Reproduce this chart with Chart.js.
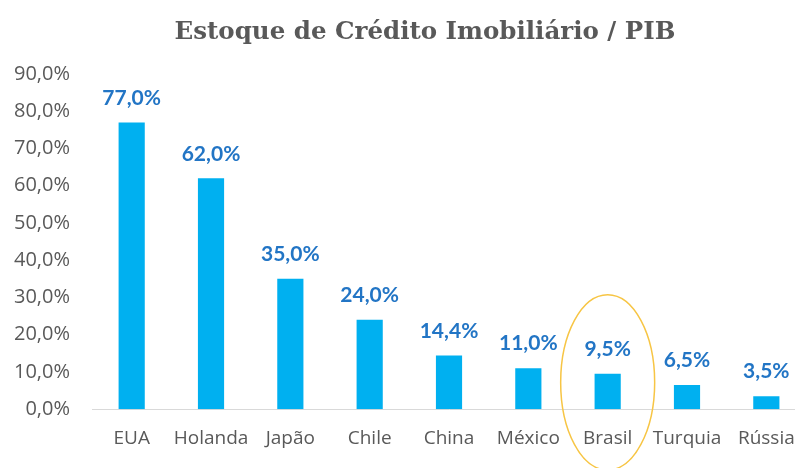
<!DOCTYPE html>
<html>
<head>
<meta charset="utf-8">
<script src="https://cdn.jsdelivr.net/npm/chart.js@4/dist/chart.umd.min.js"></script>
<style>
  html, body { margin: 0; padding: 0; background: #fff; overflow: hidden; }
  #wrap { width: 806px; height: 468px; position: relative; }
</style>
</head>
<body>
<div id="wrap"><canvas id="credit-chart"></canvas></div>
<script>
const countries = ["EUA", "Holanda", "Japão", "Chile", "China", "México", "Brasil", "Turquia", "Rússia"];
const creditToGdp = [77.0, 62.0, 35.0, 24.0, 14.4, 11.0, 9.5, 6.5, 3.5];
const yTicks = [0, 10, 20, 30, 40, 50, 60, 70, 80, 90];
const highlighted = "Brasil";
const chartTitle = "Estoque de Crédito Imobiliário / PIB";

const fmtPct = v => v.toFixed(1).replace('.', ',') + '%';

// title drawn by hand so it can sit a bit right of centre, like the original
const titleText = {
    id: 'titleText',
    afterDraw(chart) {
        const ctx = chart.ctx;
        ctx.save();
        ctx.font = 'bold 24.5px "DejaVu Serif"';
        ctx.fillStyle = '#595959';
        ctx.textAlign = 'center';
        ctx.textBaseline = 'alphabetic';
        ctx.fillText(chartTitle, 425, 39);
        ctx.restore();
    }
};

// labels above each bar
const barLabels = {
    id: 'barLabels',
    afterDatasetsDraw(chart) {
        const ctx = chart.ctx;
        const meta = chart.getDatasetMeta(0);
        ctx.save();
        ctx.font = 'bold 21px Lato';
        ctx.fillStyle = '#2275C5';
        ctx.textAlign = 'center';
        ctx.textBaseline = 'bottom';
        meta.data.forEach((bar, i) => {
            ctx.fillText(fmtPct(creditToGdp[i]), bar.x, bar.y - 14);
        });
        ctx.restore();
    }
};

// ellipse round the highlighted country
const highlightRing = {
    id: 'highlightRing',
    afterDraw(chart) {
        const ctx = chart.ctx;
        const idx = countries.indexOf(highlighted);
        const cx = chart.scales.x.getPixelForValue(idx);
        const top = chart.scales.y.getPixelForValue(creditToGdp[idx]) - 79;
        const bottom = chart.height + 2;
        ctx.save();
        ctx.strokeStyle = '#F7C544';
        ctx.lineWidth = 1.5;
        ctx.beginPath();
        ctx.ellipse(cx, (top + bottom) / 2, 47, (bottom - top) / 2, 0, 0, Math.PI * 2);
        ctx.stroke();
        ctx.restore();
    }
};

new Chart(document.getElementById('credit-chart'), {
    type: 'bar',
    data: {
        labels: countries,
        datasets: [{
            data: creditToGdp,
            backgroundColor: '#00B0F0',
            categoryPercentage: 1,
            barPercentage: 0.33
        }]
    },
    options: {
        responsive: true,
        maintainAspectRatio: false,
        animation: false,
        layout: { padding: { top: 74, right: 0, left: 0, bottom: 8 } },
        plugins: {
            legend: { display: false },
            tooltip: { enabled: false },
            title: { display: false }
        },
        scales: {
            x: {
                grid: { display: false },
                border: { display: true, color: '#D9D9D9', width: 1 },
                ticks: {
                    color: '#595959',
                    font: { family: 'Open Sans', size: 19 },
                    padding: 10,
                    maxRotation: 0,
                    minRotation: 0,
                    autoSkip: false
                }
            },
            y: {
                min: 0,
                max: 90,
                afterBuildTicks: axis => { axis.ticks = yTicks.map(v => ({ value: v })); },
                grid: { display: false },
                border: { display: false },
                ticks: {
                    color: '#595959',
                    font: { family: 'Open Sans', size: 20 },
                    padding: 14,
                    callback: v => fmtPct(v)
                }
            }
        }
    },
    plugins: [barLabels, highlightRing, titleText]
});
</script>
</body>
</html>
